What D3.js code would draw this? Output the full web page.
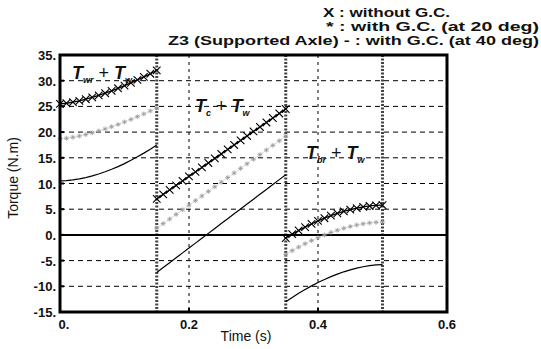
<!DOCTYPE html>
<html><head><meta charset="utf-8">
<script src="https://cdn.jsdelivr.net/npm/d3@7"></script>
<style>body{margin:0;background:#fff}svg{display:block}text{font-family:"Liberation Sans",Arial,sans-serif}</style>
</head><body><svg id="c" width="541" height="349"></svg>
<script>
// Time samples per segment
const t1 = [0,0.01,0.02,0.03,0.04,0.05,0.06,0.07,0.08,0.09,0.10,0.11,0.12,0.13,0.14,0.15];
const t2 = [0.15,0.16,0.17,0.18,0.19,0.20,0.21,0.22,0.23,0.24,0.25,0.26,0.27,0.28,0.29,0.30,0.31,0.32,0.33,0.34,0.35];
const t3 = [0.35,0.36,0.37,0.38,0.39,0.40,0.41,0.42,0.43,0.44,0.45,0.46,0.47,0.48,0.49,0.50];
// X : without G.C.
const noGC1 = [25.5,25.61,25.82,26.08,26.4,26.75,27.14,27.57,28.03,28.52,29.04,29.58,30.15,30.74,31.36,32.0];
const noGC2 = [7,7.88,8.75,9.63,10.5,11.38,12.25,13.13,14,14.88,15.75,16.63,17.5,18.38,19.25,20.13,21,21.88,22.75,23.63,24.5];
const noGC3 = [-0.6,0.15,0.85,1.52,2.14,2.72,3.25,3.74,4.18,4.57,4.91,5.21,5.45,5.63,5.75,5.8];
// * : with G.C. (20 deg)
const gc20_1 = [18.7,18.8,19.0,19.24,19.53,19.86,20.22,20.61,21.04,21.49,21.97,22.47,23.0,23.54,24.11,24.7];
const gc20_2 = [1.3,2.2,3.09,3.99,4.88,5.78,6.67,7.57,8.46,9.36,10.25,11.15,12.04,12.94,13.83,14.73,15.62,16.52,17.41,18.31,19.2];
const gc20_3 = [-3.8,-3.06,-2.37,-1.72,-1.1,-0.54,-0.01,0.47,0.9,1.29,1.63,1.92,2.15,2.33,2.45,2.5];
// - : with G.C. (40 deg)
const gc40_1 = [10.5,10.55,10.69,10.89,11.15,11.47,11.85,12.28,12.76,13.29,13.87,14.51,15.19,15.91,16.68,17.5];
const gc40_2 = [-7.3,-6.35,-5.4,-4.45,-3.5,-2.55,-1.6,-0.65,0.3,1.25,2.2,3.15,4.1,5.05,6,6.95,7.9,8.85,9.8,10.75,11.7];
const gc40_3 = [-13,-12.16,-11.36,-10.62,-9.92,-9.27,-8.67,-8.12,-7.63,-7.18,-6.8,-6.47,-6.2,-5.99,-5.85,-5.8];

const xTicks = [0,0.2,0.4,0.6];
const xTickLabels = ["0.","0.2","0.4","0.6"];
const yTicks = [35,30,25,20,15,10,5,0,-5,-10,-15];
const yTickLabels = ["35.","30.","25.","20.","15.","10.","5.","0.","-5.","-10.","-15."];
const eventTimes = [0.15,0.35,0.5];
const legendLines = ["X : without G.C.","* : with G.C. (at 20 deg)","Z3 (Supported Axle) - : with G.C. (at 40 deg)"];

const svg = d3.select("#c");
const L=60,R=447,T=55,B=312;
const x = d3.scaleLinear().domain([0,0.6]).range([L,R]);
const y = d3.scaleLinear().domain([-15,35]).range([B,T]);

// grid
const g = svg.append("g");
yTicks.filter(v=>v!==35&&v!==-15&&v!==0).forEach(v=>{
  g.append("line").attr("x1",L).attr("x2",R).attr("y1",y(v)).attr("y2",y(v))
   .attr("stroke","#000").attr("stroke-width",1).attr("stroke-dasharray","5,4");
});
xTicks.filter(v=>v>0&&v<0.6).forEach(v=>{
  g.append("line").attr("x1",x(v)).attr("x2",x(v)).attr("y1",T).attr("y2",B)
   .attr("stroke","#000").attr("stroke-width",1).attr("stroke-dasharray","3,4");
});
// event lines
eventTimes.forEach(v=>{
  g.append("line").attr("x1",x(v)).attr("x2",x(v)).attr("y1",T).attr("y2",B)
   .attr("stroke","#444").attr("stroke-width",3).attr("stroke-dasharray","2,1.5");
});
// zero line
g.append("line").attr("x1",L).attr("x2",R).attr("y1",y(0)).attr("y2",y(0))
 .attr("stroke","#000").attr("stroke-width",2);

const line = d3.line().x(d=>x(d[0])).y(d=>y(d[1]));
const segs = (ts, vs) => ts.map((t,i)=>[t,vs[i]]);
const series = [
  {segs:[segs(t1,gc40_1),segs(t2,gc40_2),segs(t3,gc40_3)], color:"#000", w:1.2, mark:null},
  {segs:[segs(t1,gc20_1),segs(t2,gc20_2),segs(t3,gc20_3)], color:"#bbb", w:0.5, mark:"star"},
  {segs:[segs(t1,noGC1),segs(t2,noGC2),segs(t3,noGC3)], color:"#000", w:1.3, mark:"x"}
];
series.forEach(s=>{
  s.segs.forEach(pts=>{
    svg.append("path").attr("d",line(pts)).attr("fill","none").attr("stroke",s.color).attr("stroke-width",s.w);
    if(s.mark==="x"){
      pts.forEach(p=>{
        const cx=x(p[0]),cy=y(p[1]),r=3.8;
        svg.append("path").attr("d",`M${cx-r},${cy-r}L${cx+r},${cy+r}M${cx-r},${cy+r}L${cx+r},${cy-r}`)
          .attr("stroke","#000").attr("stroke-width",1.1);
      });
    } else if(s.mark==="star"){
      pts.forEach(p=>{
        const cx=x(p[0]),cy=y(p[1]),r=2.5;
        svg.append("path").attr("d",`M${cx-r},${cy}L${cx+r},${cy}M${cx},${cy-r}L${cx},${cy+r}M${cx-r*0.7},${cy-r*0.7}L${cx+r*0.7},${cy+r*0.7}M${cx-r*0.7},${cy+r*0.7}L${cx+r*0.7},${cy-r*0.7}`)
          .attr("stroke","#999").attr("stroke-width",0.8);
      });
    }
  });
});

// frame
svg.append("rect").attr("x",L).attr("y",T).attr("width",R-L).attr("height",B-T)
  .attr("fill","none").attr("stroke","#000").attr("stroke-width",3);
// tick marks
yTicks.forEach(v=>svg.append("line").attr("x1",L).attr("x2",L+4).attr("y1",y(v)).attr("y2",y(v)).attr("stroke","#000").attr("stroke-width",2));
xTicks.forEach(v=>svg.append("line").attr("x1",x(v)).attr("x2",x(v)).attr("y1",B).attr("y2",B-4).attr("stroke","#000").attr("stroke-width",2));

// tick labels
yTicks.forEach((v,i)=>{
  svg.append("text").attr("x",L-4).attr("y",y(v)+5).attr("text-anchor","end")
    .attr("font-size",13).attr("font-weight","bold").attr("fill","#111").text(yTickLabels[i]);
});
xTicks.forEach((v,i)=>{
  svg.append("text").attr("x",x(v)+(i===0?4:0)).attr("y",B+17).attr("text-anchor","middle")
    .attr("font-size",13).attr("font-weight","bold").attr("fill","#111").text(xTickLabels[i]);
});
// axis titles
svg.append("text").attr("x",246).attr("y",341).attr("text-anchor","middle")
  .attr("font-size",14).attr("fill","#111").text("Time (s)");
svg.append("text").attr("transform","translate(18,178) rotate(-90)").attr("text-anchor","middle")
  .attr("font-size",14).attr("fill","#111").text("Torque (N.m)");

// legend / title block
const lg = [[323,17,127],[326,31,213],[168,45,371]];
legendLines.forEach((s,i)=>{
  svg.append("text").attr("x",lg[i][0]).attr("y",lg[i][1]).attr("font-size",13).attr("font-weight","bold")
    .attr("fill","#111").attr("textLength",lg[i][2]).attr("lengthAdjust","spacingAndGlyphs").text(s);
});

// annotations
function ann(px,py,sub1,sub2){
  const t = svg.append("text").attr("x",px).attr("y",py)
    .attr("font-family","'Liberation Serif','Times New Roman',serif").attr("font-style","italic")
    .attr("font-weight","bold").attr("font-size",18).attr("fill","#111");
  t.append("tspan").text("T");
  t.append("tspan").attr("font-size",9).attr("dy",4).text(sub1);
  t.append("tspan").attr("dy",-4).attr("font-style","normal").attr("font-weight","normal").text(" + ");
  t.append("tspan").text("T");
  t.append("tspan").attr("font-size",9).attr("dy",4).text(sub2);
}
ann(72,79,"wr","w");
ann(195,112,"c","w");
ann(306,159,"br","w");
</script></body></html>
